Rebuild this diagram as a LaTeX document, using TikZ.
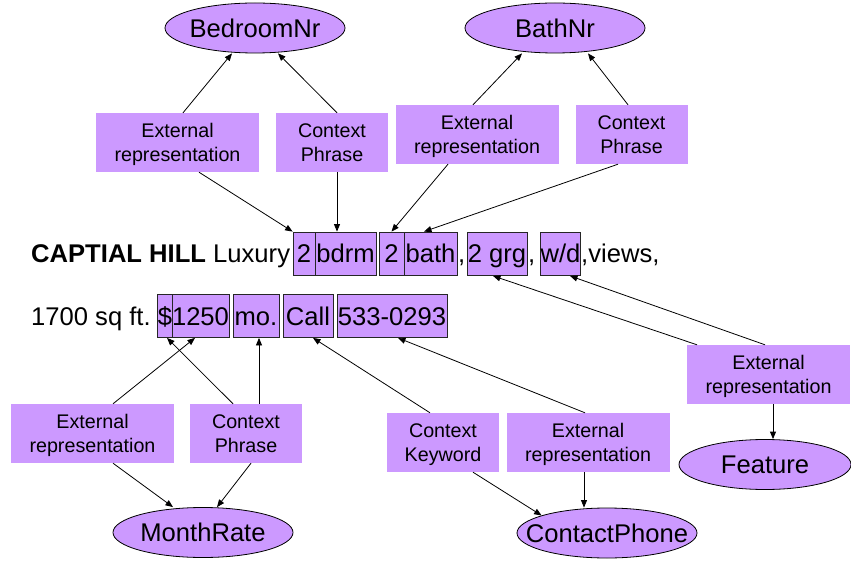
\documentclass[tikz,border=0pt]{standalone}
\usepackage{fontspec}
\setmainfont{Liberation Sans}
\usetikzlibrary{calc,arrows.meta,shapes.geometric}
\definecolor{lav}{HTML}{CC99FF}

\begin{document}
\begin{tikzpicture}[x=1pt, y=-1pt,
		entity/.style={ellipse, draw=black, line width=0.8pt, fill=lav, inner xsep=-25pt, inner ysep=0pt, minimum width=180pt, minimum height=50pt, font=\fontsize{25.6}{30}\selectfont},
		extbox/.style={fill=lav, inner sep=0pt, minimum width=163pt, minimum height=59pt, align=center, text depth=0pt, font=\fontsize{19.7}{23.5}\selectfont},
		ctxbox/.style={extbox, minimum width=112pt},
		tok/.style={draw=black!85, line width=0.8pt, fill=lav, inner sep=0pt, anchor=base, text height=31pt, text depth=12.5pt, font=\fontsize{25.6}{30}\selectfont},
		txt/.style={inner sep=0pt, anchor=base west, font=\fontsize{25.6}{30}\selectfont},
		arr/.style={line width=0.8pt, -{Triangle[length=7.5pt,width=6pt]}}]
		%%%%% START %%%%%
		
		\clip (0, 0) rectangle (851, 561);
		
		\node[entity] (bedroom) at (255, 28) {BedroomNr};
		\node[entity] (bath) at (555, 28) {BathNr};
		\node[entity] (month) at (203, 532.5) {MonthRate};
		\node[entity] (contact) at (607, 533) {ContactPhone};
		\node[entity, minimum width=172pt] (feature) at (765, 464.5) {Feature};
		
		\node[extbox] (extA) at (177.5, 142.5) {External\\representation};
		\node[ctxbox] (ctxA) at (332, 142.5) {Context\\Phrase};
		\node[extbox] (extB) at (477, 134.5) {External\\representation};
		\node[ctxbox] (ctxB) at (631.5, 134.5) {Context\\Phrase};
		\node[extbox] (extC) at (92.5, 433.5) {External\\representation};
		\node[ctxbox] (ctxC) at (246, 433.5) {Context\\Phrase};
		\node[ctxbox] (keyD) at (443, 442.5) {Context\\Keyword};
		\node[extbox] (extD) at (588, 442.5) {External\\representation};
		\node[extbox] (extE) at (768.5, 374.5) {External\\representation};
		
		% first line of the ad
		\node[txt] (head) at (31, 263) {\textbf{CAPTIAL HILL} Luxury};
		\node[tok, minimum width=22pt] (bedNum) at (304, 263) {2};
		\node[tok, minimum width=61pt] (bdrm) at (345.5, 263) {bdrm};
		\node[tok, minimum width=25pt] (bathNum) at (391.5, 263) {2};
		\node[tok, minimum width=53pt] (bathWord) at (430.5, 263) {bath};
		\node[txt] (commaA) at (458, 263) {,};
		\node[tok, minimum width=60pt] (grg) at (497, 263) {2 grg};
		\node[txt] (commaB) at (528, 263) {,};
		\node[tok, minimum width=39pt] (wd) at (560.5, 263) {w/d};
		\node[txt] (views) at (581, 263) {,views,};
		
		% second line of the ad
		\node[txt] (size) at (31, 325) {1700 sq ft.};
		\node[tok, minimum width=16pt] (dollar) at (165, 325) {\$};
		\node[tok, minimum width=55pt] (price) at (200.5, 325) {1250};
		\node[tok, minimum width=46pt] (mo) at (256, 325) {mo.};
		\node[tok, minimum width=50pt] (call) at (308, 325) {Call};
		\node[tok, minimum width=110pt] (phone) at (392, 325) {533-0293};
		
		\draw[arr] ([xshift=5.5pt]extA.north) -- ([xshift=-23pt]bedroom.south);
		\draw[arr] ([xshift=5pt]ctxA.north) -- ([xshift=23pt]bedroom.south);
		\draw[arr] ([xshift=-4pt]extB.north) -- ([xshift=-33pt]bath.south);
		\draw[arr] ([xshift=-3.5pt]ctxB.north) -- ([xshift=33pt]bath.south);
		
		\draw[arr] ([xshift=21.5pt]extA.south) -- (bedNum.north west);
		\draw[arr] ([xshift=5pt]ctxA.south) -- ([xshift=5pt]ctxA.south |- bdrm.north);
		\draw[arr] ([xshift=-29pt]extB.south) -- (bathNum.north);
		\draw[arr] ([xshift=-13.5pt]ctxB.south) -- ([xshift=-6.5pt]bathWord.north);
		
		\draw[arr] ([xshift=-71.5pt]extE.north) -- ([xshift=-4pt]grg.south);
		\draw[arr] ([xshift=-3.5pt]extE.north) -- ([xshift=9.5pt]wd.south);
		\draw[arr] ([xshift=4.5pt]extE.south) -- ([xshift=4.5pt]extE.south |- feature.north);
		
		\draw[arr] ([xshift=20.5pt]extC.north) -- ([xshift=-5.5pt]price.south);
		\draw[arr] ([xshift=-13pt]ctxC.north) -- ([xshift=2pt]dollar.south);
		\draw[arr] ([xshift=13pt]ctxC.north) -- ([xshift=13pt]ctxC.north |- mo.south);
		\draw[arr] ([xshift=-13pt]keyD.north) -- ([xshift=5pt]call.south);
		\draw[arr] ([xshift=-3pt]extD.north) -- ([xshift=6pt]phone.south);
		
		\draw[arr] ([xshift=20.5pt]extC.south) -- ([xshift=-30pt]month.north);
		\draw[arr] ([xshift=5pt]ctxC.south) -- ([xshift=14pt]month.north);
		\draw[arr] ([xshift=30pt]keyD.south) -- (contact.165);
		\draw[arr] ([xshift=-4pt]extD.south) -- ([xshift=-4pt]extD.south |- contact.north);
		
		%%%%% END %%%%%
\end{tikzpicture}
\end{document}
